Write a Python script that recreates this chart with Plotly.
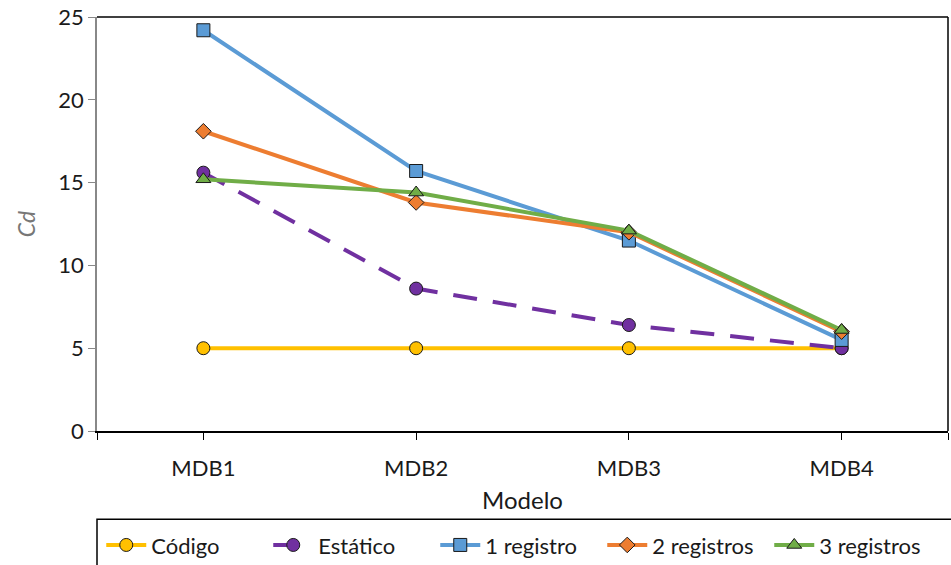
import plotly.graph_objects as go

# Categories and series values
modelos = ["MDB1", "MDB2", "MDB3", "MDB4"]
codigo = [5.0, 5.0, 5.0, 5.0]
estatico = [15.6, 8.6, 6.4, 5.0]
registro_1 = [24.2, 15.7, 11.5, 5.5]
registros_2 = [18.1, 13.8, 12.0, 6.0]
registros_3 = [15.2, 14.4, 12.1, 6.1]

y_ticks = [0, 5, 10, 15, 20, 25]

xpos = [1, 2, 3, 4]
FONT = "Lato, 'Open Sans', sans-serif"

series = [
    ("Código", codigo, "#FFC000", "circle", None),
    ("Estático", estatico, "#7030A0", "circle", "24px,16px"),
    ("1 registro", registro_1, "#5B9BD5", "square", None),
    ("2 registros", registros_2, "#ED7D31", "diamond", None),
    ("3 registros", registros_3, "#70AD47", "triangle-up", None),
]

fig = go.Figure()
for name, vals, color, symbol, dash in series:
    fig.add_trace(go.Scatter(
        x=xpos, y=vals, name=name, mode="lines+markers",
        line=dict(color=color, width=4, dash=dash or "solid"),
        marker=dict(symbol=symbol, size=13 if symbol != "diamond" else 12,
                    color=color, line=dict(color="#1a1a1a", width=1)),
    ))

fig.update_layout(
    width=951, height=565,
    margin=dict(l=97, r=3, t=17, b=134, autoexpand=False),
    paper_bgcolor="white", plot_bgcolor="white",
    font=dict(family=FONT, size=22, color="#1a1a1a"),
    showlegend=True,
    legend=dict(
        orientation="h", x=0.005, xanchor="left", y=-0.225, yanchor="top",
        borderwidth=0, bgcolor="rgba(0,0,0,0)",
        font=dict(size=22, family=FONT, color="#1a1a1a"),
        traceorder="normal", itemwidth=40,
        entrywidth=112, entrywidthmode="pixels",
    ),
    xaxis=dict(
        range=[0.5, 4.5],
        tickmode="array", tickvals=[0.5] + xpos + [4.5],
        ticktext=[""] + modelos + [""],
        ticks="outside", ticklen=7, tickcolor="black", tickwidth=1,
        showline=True, linecolor="black", linewidth=1.5,
        showgrid=False, zeroline=False,
        tickfont=dict(size=22), ticklabelstandoff=10,
        title=dict(text="Modelo", font=dict(size=24), standoff=12),
    ),
    yaxis=dict(
        range=[0, 25],
        tickmode="array", tickvals=y_ticks,
        ticks="outside", ticklen=7, tickcolor="#888888", tickwidth=1,
        showline=True, linecolor="#888888", linewidth=1.5,
        showgrid=False, zeroline=False,
        tickfont=dict(size=22),
        title=dict(text="<i>Cd</i>", font=dict(size=23, color="#777777"), standoff=16),
    ),
)

# Top and right frame in black (left axis line stays grey)
fig.add_shape(type="line", xref="paper", yref="paper", x0=0, x1=1, y0=1, y1=1,
              line=dict(color="black", width=1.5))
fig.add_shape(type="line", xref="paper", yref="paper", x0=1, x1=1, y0=0, y1=1,
              line=dict(color="black", width=1.5))
# Legend frame running off the bottom edge of the page
fig.add_shape(type="rect", xref="paper", yref="paper",
              x0=0, x1=1.01, y0=-0.213, y1=-0.35,
              line=dict(color="black", width=1.5), layer="below")

fig.write_html("out.html")
